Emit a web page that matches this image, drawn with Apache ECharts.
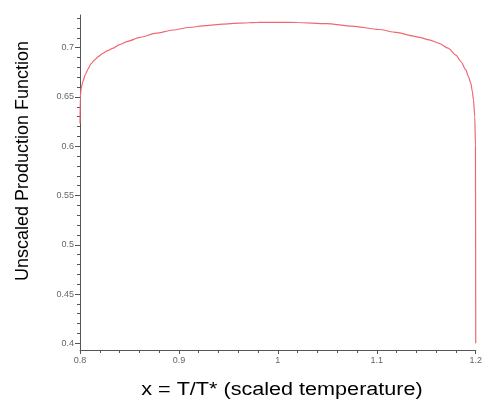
<!DOCTYPE html>
<html>
<head>
<meta charset="utf-8">
<script src="https://cdn.jsdelivr.net/npm/echarts@6/dist/echarts.min.js"></script>
<style>
  html, body { margin: 0; padding: 0; background: #fff; }
  #chart { width: 485px; height: 399px; }
</style>
</head>
<body>
<div id="chart"></div>
<script>
// curve (x = T/T*, y = unscaled production)
const xValues = [0.8, 0.8003, 0.8012, 0.8028, 0.8055, 0.8079, 0.811, 0.8146, 0.8185, 0.823, 0.828, 0.833, 0.840, 0.848,
    0.8605, 0.877, 0.894, 0.91, 0.927, 0.944, 0.961, 0.98, 1.0, 1.02, 1.049, 1.075, 1.102, 1.12, 1.136, 1.143, 1.153,
    1.163, 1.172, 1.18, 1.185, 1.19, 1.1925, 1.195, 1.1965, 1.1977, 1.199, 1.1997, 1.2];
const yValues = [0.623, 0.650, 0.659, 0.6655, 0.673, 0.678, 0.6835, 0.6875, 0.691, 0.6943, 0.697, 0.6994, 0.7032, 0.7065,
    0.7105, 0.7148, 0.718, 0.7205, 0.7225, 0.724, 0.725, 0.7257, 0.7258, 0.7256, 0.7245, 0.722, 0.7185, 0.7155, 0.712, 0.7105, 0.708,
    0.7045, 0.6995, 0.6925, 0.686, 0.6775, 0.671, 0.664, 0.656, 0.647, 0.630, 0.60, 0.40];

// tick labels
const yMajorTicks = [0.4, 0.45, 0.5, 0.55, 0.6, 0.65, 0.7];
const yMinorTicks = [0.41, 0.42, 0.43, 0.44, 0.46, 0.47, 0.48, 0.49, 0.51, 0.52, 0.53, 0.54,
    0.56, 0.57, 0.58, 0.59, 0.61, 0.62, 0.63, 0.64, 0.66, 0.67, 0.68, 0.69, 0.71, 0.72, 0.73];

const xTitle = 'x = T/T* (scaled temperature)';
const yTitle = 'Unscaled Production Function';

const FONT = '"Liberation Sans", Arial, sans-serif';

const chart = echarts.init(document.getElementById('chart'));

const labelStyle = { fontFamily: FONT, fontSize: 9, color: '#666' };
const lineStyle = { color: '#555', width: 1 };

chart.setOption({
    animation: false,
    grid: { left: 80, right: 9, top: 15, bottom: 49 },
    xAxis: {
        type: 'value',
        min: 0.8,
        max: 1.2,
        interval: 0.1,
        axisLine: { show: true, onZero: false, lineStyle: lineStyle },
        axisTick: { show: true, length: 4, lineStyle: lineStyle },
        minorTick: { show: true, splitNumber: 5, length: 3, lineStyle: lineStyle },
        splitLine: { show: false },
        axisLabel: { ...labelStyle, margin: 6, showMinLabel: true, showMaxLabel: true }
    },
    yAxis: [
        {
            type: 'value',
            min: 0.3932,
            max: 0.7332,
            axisLine: { show: true, onZero: false, lineStyle: lineStyle },
            axisTick: { show: true, length: 5, customValues: yMajorTicks, lineStyle: lineStyle },
            splitLine: { show: false },
            axisLabel: { ...labelStyle, margin: 6, customValues: yMajorTicks }
        },
        {
            type: 'value',
            position: 'left',
            min: 0.3932,
            max: 0.7332,
            axisLine: { show: false },
            axisTick: { show: true, length: 3, customValues: yMinorTicks, lineStyle: lineStyle },
            splitLine: { show: false },
            axisLabel: { show: false }
        }
    ],
    series: [{
        type: 'line',
        yAxisIndex: 0,
        data: xValues.map((x, i) => [x, yValues[i]]),
        showSymbol: false,
        smooth: 0.25,
        smoothMonotone: 'x',
        lineStyle: { color: '#ef6870', width: 1.2 },
        z: 3
    }],
    graphic: [
        {
            type: 'text',
            x: 23,
            y: 161,
            rotation: Math.PI / 2,
            style: {
                text: yTitle,
                font: '18px ' + FONT,
                fill: '#000',
                align: 'center',
                verticalAlign: 'middle'
            }
        },
        {
            type: 'text',
            x: 282,
            y: 390,
            scaleX: 1.2,
            style: {
                text: xTitle,
                font: '18px ' + FONT,
                fill: '#000',
                align: 'center',
                verticalAlign: 'middle'
            }
        }
    ]
});
</script>
</body>
</html>
